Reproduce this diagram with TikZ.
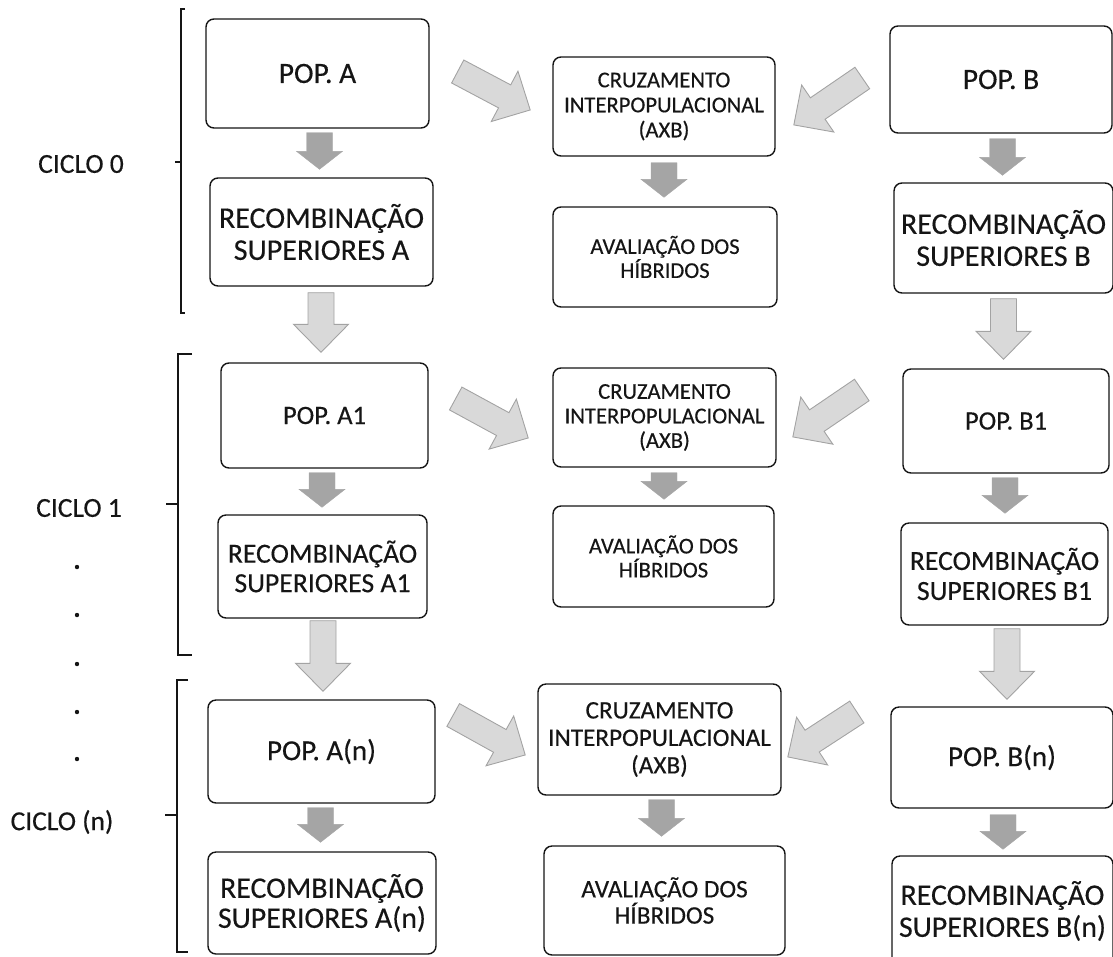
\documentclass[tikz,border=0pt]{standalone}
\usepackage{fontspec}
\setmainfont{Carlito}[FakeBold=0.35]
\usetikzlibrary{calc}
\definecolor{arrdark}{HTML}{A5A5A5}
\definecolor{arrlight}{HTML}{D9D9D9}
\definecolor{arrline}{HTML}{A3A3A3}
\definecolor{ink}{HTML}{151515}
\newcommand\fsz[2]{\fontsize{#1}{#2}\selectfont}
\makeatletter
\newcommand\blockarrow[6]{%
  \pgfpointdiff{\pgfpointanchor{#2}{center}}{\pgfpointanchor{#3}{center}}%
  \edef\ba@dx{\the\pgf@x}\edef\ba@dy{\the\pgf@y}%
  \pgfmathsetmacro\ba@ang{atan2(\ba@dy,\ba@dx)}%
  \pgfmathsetmacro\ba@len{veclen(\ba@dx,\ba@dy)}%
  \pgfmathsetmacro\ba@hb{\ba@len-#6}%
  \pgfmathsetmacro\ba@s{#4/2}%
  \pgfmathsetmacro\ba@h{#5/2}%
  \draw[#1,shift={(#2)},rotate=\ba@ang] (0pt,\ba@s pt) -- (\ba@hb pt,\ba@s pt) -- (\ba@hb pt,\ba@h pt) -- (\ba@len pt,0pt) -- (\ba@hb pt,-\ba@h pt) -- (\ba@hb pt,-\ba@s pt) -- (0pt,-\ba@s pt) -- cycle;%
}
\makeatother
\begin{document}
\begin{tikzpicture}[x=1pt,y=-1pt,
  box/.style={draw=ink, line width=1.4pt, rounded corners=8pt, fill=white, align=center, inner sep=0pt, text=ink},
  lbl/.style={text=ink, inner sep=0pt, font=\fsz{27.5}{30}},
  darkarr/.style={fill=arrdark, draw=arrdark, line width=0.4pt},
  lightarr/.style={fill=arrlight, draw=arrline, line width=0.9pt, line join=miter},
  brk/.style={draw=ink, line width=1.2pt}]
\useasboundingbox (0,0) rectangle (1113,956);
\clip (0,0) rectangle (1113,956);

% ---- row 0
\node[box, minimum width=223pt, minimum height=109pt, font=\fsz{29.5}{32}] (popA) at (317.5,73.5) {POP. A};
\node[box, minimum width=223pt, minimum height=108pt, font=\fsz{30}{32}] (recA) at (321.5,232) {RECOMBINAÇÃO\\SUPERIORES A};
\node[box, minimum width=222pt, minimum height=99pt, font=\fsz{22.6}{25}] (cruz0) at (664,106.5) {CRUZAMENTO\\INTERPOPULACIONAL\\(AXB)};
\node[box, minimum width=224pt, minimum height=100pt, font=\fsz{22.6}{24}] (aval0) at (665,257) {AVALIAÇÃO DOS\\HÍBRIDOS};
\node[box, minimum width=222pt, minimum height=107pt, font=\fsz{29.5}{32}] (popB) at (1001,79.5) {POP. B};
\node[box, minimum width=219pt, minimum height=110pt, font=\fsz{30}{32}] (recB) at (1003.5,238) {RECOMBINAÇÃO\\SUPERIORES B};

% ---- row 1
\node[box, minimum width=207pt, minimum height=105pt, font=\fsz{26.5}{29}] (popA1) at (324.5,415.5) {POP. A1};
\node[box, minimum width=209pt, minimum height=103pt, font=\fsz{27.7}{29.5}] (recA1) at (322.5,566.5) {RECOMBINAÇÃO\\SUPERIORES A1};
\node[box, minimum width=223pt, minimum height=99pt, font=\fsz{22.6}{24.5}] (cruz1) at (664.5,417.5) {CRUZAMENTO\\INTERPOPULACIONAL\\(AXB)};
\node[box, minimum width=221pt, minimum height=101pt, font=\fsz{22.6}{24}] (aval1) at (663.5,556.5) {AVALIAÇÃO DOS\\HÍBRIDOS};
\node[box, minimum width=206pt, minimum height=104pt, font=\fsz{26.5}{29}] (popB1) at (1006,421) {POP. B1};
\node[box, minimum width=207pt, minimum height=102pt, font=\fsz{27.7}{30}] (recB1) at (1004.5,574) {RECOMBINAÇÃO\\SUPERIORES B1};

% ---- row n
\node[box, minimum width=227pt, minimum height=103pt, font=\fsz{29}{32}] (popAn) at (321.5,751.5) {POP. A(n)};
\node[box, minimum width=228pt, minimum height=102pt, font=\fsz{29.8}{30}] (recAn) at (322,903) {RECOMBINAÇÃO\\SUPERIORES A(n)};
\node[box, minimum width=243pt, minimum height=111pt, font=\fsz{25.2}{27.5}] (cruzn) at (659.5,739.5) {CRUZAMENTO\\INTERPOPULACIONAL\\(AXB)};
\node[box, minimum width=241pt, minimum height=109pt, font=\fsz{25.2}{25}] (avaln) at (664.5,900.5) {AVALIAÇÃO DOS\\HÍBRIDOS};
\node[box, minimum width=222pt, minimum height=101pt, font=\fsz{29}{32}] (popBn) at (1002,757.5) {POP. B(n)};
\node[box, minimum width=221pt, minimum height=110pt, font=\fsz{29.8}{32}] (recBn) at (1002.5,911) {RECOMBINAÇÃO\\SUPERIORES B(n)};

% ---- cycle labels and brackets
\node[lbl] (c0) at (81,164) {CICLO 0};
\node[lbl] (c1) at (79,508) {CICLO 1};
\node[lbl] (cn) at (62,822) {CICLO (n)};
\draw[brk] (185,9) -- (181,9) -- (181,313) -- (185,313);
\draw[brk] (175,162) -- (181,162);
\draw[brk] (192,354) -- (178,354) -- (178,655) -- (192,655);
\draw[brk] (166,504) -- (178,504);
\draw[brk] (188,680) -- (177,680) -- (177,952) -- (188,952);
\draw[brk] (165,815) -- (177,815);
\foreach \yy in {567,615,664,712,759} \fill[ink] (77,\yy) circle (2.2pt);

% ---- arrow end points
\coordinate (dA0s) at ($(popA.south)+(2,4)$);   \coordinate (dA0e) at ($(recA.north)+(-2,-8)$);
\coordinate (dC0s) at ($(cruz0.south)+(0,6)$);  \coordinate (dC0e) at ($(aval0.north)+(-1,-9)$);
\coordinate (dB0s) at ($(popB.south)+(1.5,5)$); \coordinate (dB0e) at ($(recB.north)+(-1,-7)$);
\coordinate (dA1s) at ($(popA1.south)+(-2.5,4)$); \coordinate (dA1e) at ($(recA1.north)+(-0.5,-7)$);
\coordinate (dC1s) at ($(cruz1.south)+(-0.5,5)$); \coordinate (dC1e) at ($(aval1.north)+(0.5,-6)$);
\coordinate (dB1s) at ($(popB1.south)+(-1,4)$); \coordinate (dB1e) at ($(recB1.north)+(0.5,-9)$);
\coordinate (dAns) at ($(popAn.south)+(-1,4)$); \coordinate (dAne) at ($(recAn.north)+(-1.5,-9)$);
\coordinate (dCns) at ($(cruzn.south)+(2,4)$); \coordinate (dCne) at ($(avaln.north)+(-3,-9)$);
\coordinate (dBns) at ($(popBn.south)+(1,6)$); \coordinate (dBne) at ($(recBn.north)+(0.5,-6)$);

\coordinate (lA0s) at ($(recA.south)+(-0.5,6)$);  \coordinate (lA0e) at ($(popA1.north)+(-3.5,-10)$);
\coordinate (lA1s) at ($(recA1.south)+(0.5,2)$);  \coordinate (lA1e) at ($(popAn.north)+(1.5,-8)$);
\coordinate (lB0s) at ($(recB.south)+(0,5)$);     \coordinate (lB0e) at ($(popB1.north)+(-2.5,-9)$);
\coordinate (lB1s) at ($(recB1.south)+(2.5,3)$);  \coordinate (lB1e) at ($(popBn.north)+(5,-7)$);

\coordinate (gA0s) at ($(popA.east)+(28,-2)$);     \coordinate (gA0e) at ($(cruz0.west)+(-22,3.5)$);
\coordinate (gB0s) at ($(popB.west)+(-27,-1.5)$);  \coordinate (gB0e) at ($(cruz0.east)+(18,18.5)$);
\coordinate (gA1s) at ($(popA1.east)+(27,-17)$);   \coordinate (gA1e) at ($(cruz1.west)+(-24,20.5)$);
\coordinate (gB1s) at ($(popB1.west)+(-40.5,-31)$); \coordinate (gB1e) at ($(cruz1.east)+(16,19.5)$);
\coordinate (gAns) at ($(popAn.east)+(17.5,-36.5)$); \coordinate (gAne) at ($(cruzn.west)+(-12,15.5)$);
\coordinate (gBns) at ($(popBn.west)+(-33.5,-45.5)$); \coordinate (gBne) at ($(cruzn.east)+(6,17.5)$);

% ---- dark short arrows
\foreach \a in {dA0,dC0,dB0,dA1,dC1,dB1,dAn,dCn,dBn}
  {\blockarrow{darkarr}{\a s}{\a e}{26}{46}{18}}
% ---- light vertical arrows
\foreach \a in {lA0,lA1,lB0,lB1}
  {\blockarrow{lightarr}{\a s}{\a e}{26}{55}{28}}
% ---- light diagonal arrows
\foreach \a in {gA0,gB0,gA1,gB1,gAn,gBn}
  {\blockarrow{lightarr}{\a s}{\a e}{26}{57}{29}}
\end{tikzpicture}
\end{document}
